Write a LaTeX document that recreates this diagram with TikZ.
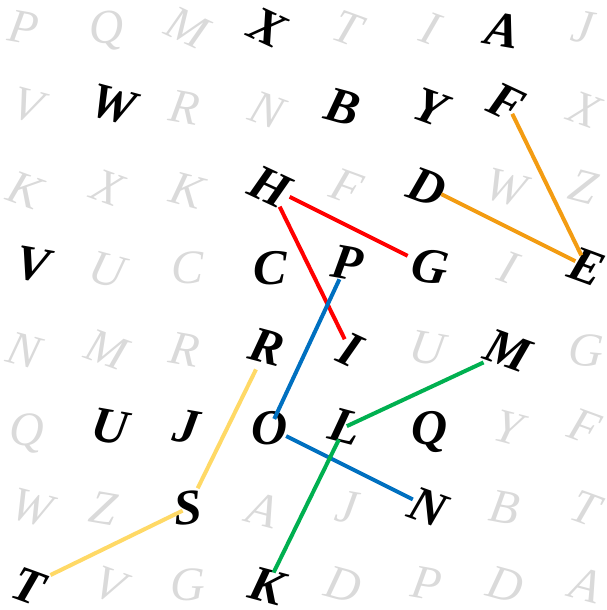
\documentclass[tikz,border=0pt]{standalone}
\usepackage{fontspec}
\setmainfont{Liberation Serif}

\definecolor{pathRed}{HTML}{FF0000}
\definecolor{pathOrange}{HTML}{F39C12}
\definecolor{pathBlue}{HTML}{0070C0}
\definecolor{pathGreen}{HTML}{00B050}
\definecolor{pathYellow}{HTML}{FFD966}
\definecolor{fillerGray}{HTML}{DADADA}

\begin{document}
\begin{tikzpicture}[x=1pt, y=-1pt,
    target/.style={font=\fontsize{50}{50}\selectfont\bfseries\itshape, inner sep=0pt},
    filler/.style={font=\fontsize{48}{48}\selectfont\itshape, text=fillerGray, inner sep=0pt},
    link/.style={line width=4pt}]
    \useasboundingbox (0,0) rectangle (607,610);

    % Background letters (x/y/letter/angle)
    \foreach \x/\y/\c/\a [count=\i] in {
        24/28/P/-10, 107/31/Q/5, 187/28/M/-25, 347/28/T/-20, 430/28/I/-20, 583/27/J/-10,
        28/105/V/-15, 185/108/R/-10, 267/110/N/-20, 585/110/X/-20,
        25/190/K/-20, 108/188/X/-20, 187/190/K/-15, 347/187/F/-20, 506/188/W/-15, 583/187/Z/-15,
        107/270/U/-15, 188/268/C/0, 508/267/I/-20,
        24/350/N/-15, 107/350/M/-20, 185/350/R/-10, 427/348/U/-10, 586/350/G/-5,
        27/433/Q/0, 508/428/Y/-15, 585/427/F/-20,
        32/508/W/-15, 103/508/Z/-10, 263/510/A/-15, 347/507/J/-10, 505/508/B/-10, 585/508/T/-20,
        110/585/V/-20, 188/585/G/0, 343/585/D/-15, 427/584/P/-10, 505/585/D/-15, 586/585/A/-15}
        \node[filler, rotate=\a] (bg\i) at (\x,\y) {\c};

    % Letters to find
    \node[target, rotate=-25] (X) at (268,28) {X};
    \node[target, rotate=-10] (A) at (503,30) {A};
    \node[target, rotate=-15] (W) at (113,105) {W};
    \node[target, rotate=-15] (B) at (343,107) {B};
    \node[target, rotate=-20] (Y) at (430,107) {Y};
    \node[target, rotate=-25] (F) at (507,103) {F};
    \node[target, rotate=-25] (H) at (270,187) {H};
    \node[target, rotate=-20] (D) at (427,187) {D};
    \node[target, rotate=-10] (V) at (33,265) {V};
    \node[target] (C) at (270,268) {C};
    \node[target, rotate=-10] (P) at (347,263) {P};
    \node[target, rotate=-10] (G) at (430,267) {G};
    \node[target, rotate=-20] (E) at (587,267) {E};
    \node[target, rotate=-15] (R) at (267,347) {R};
    \node[target, rotate=-25] (I) at (350,350) {I};
    \node[target, rotate=-20] (M) at (508,351) {M};
    \node[target, rotate=-10] (U) at (110,427) {U};
    \node[target, rotate=-10] (J) at (187,427) {J};
    \node[target] (O) at (270,428) {O};
    \node[target, rotate=-15] (L) at (345,427) {L};
    \node[target] (Q) at (430,432) {Q};
    \node[target, rotate=5] (S) at (188,508) {S};
    \node[target, rotate=-20] (N) at (428,507) {N};
    \node[target, rotate=-20] (T) at (28,586) {T};
    \node[target, rotate=-15] (K) at (267,586) {K};

    % Found words
    \draw[link, pathRed, shorten <=22pt, shorten >=25pt] (H.center) -- (G.center);
    \draw[link, pathRed, shorten <=22pt, shorten >=12pt] (H.center) -- (I.center);
    \draw[link, pathOrange, shorten <=16pt, shorten >=13pt] (D.center) -- (E.center);
    \draw[link, pathOrange, shorten <=12pt, shorten >=13pt] (F.center) -- (E.center);
    \draw[link, pathBlue, shorten <=18pt, shorten >=10pt] (P.center) -- (O.center);
    \draw[link, pathBlue, shorten <=18pt, shorten >=17pt] (O.center) -- (N.center);
    \draw[link, pathGreen, shorten <=27pt, shorten >=2pt] (M.center) -- (L.center);
    \draw[link, pathGreen, shorten <=14pt, shorten >=15pt] (L.center) -- (K.center);
    \draw[link, pathYellow, shorten <=25pt, shorten >=22pt] (R.center) -- (S.center);
    \draw[link, pathYellow, shorten <=6pt, shorten >=25pt] (S.center) -- (T.center);
\end{tikzpicture}
\end{document}
